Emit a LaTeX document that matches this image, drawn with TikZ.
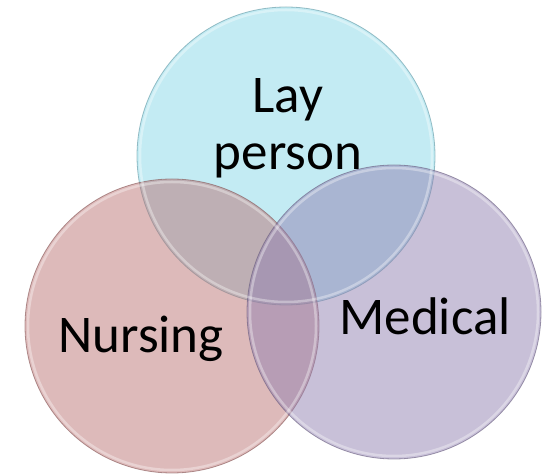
\documentclass[tikz,border=0pt]{standalone}
\usepackage{fontspec}
\setmainfont{Carlito}
\usepackage{xcolor}
\definecolor{laycyan}{HTML}{87D7E7}
\definecolor{nursered}{HTML}{BB7575}
\definecolor{medpurple}{HTML}{9181B1}
\definecolor{vennink}{HTML}{000000}

\begin{document}
\begin{tikzpicture}[x=1pt,y=1pt,
  venn/.style={circle, inner sep=0pt, minimum size=#1, fill opacity=0.5, draw opacity=0.6, line width=0.8pt},
  rim/.style={circle, inner sep=0pt, minimum size=#1, draw=white, draw opacity=0.35, line width=2.5pt},
  label/.style={text=vennink, font=\fontsize{53}{57}\selectfont, align=center}]
\useasboundingbox (0,0) rectangle (543,476);
% the three sets
\node[venn=298pt, fill=laycyan, draw=laycyan!70!black] (lay) at (286,320) {};
\node[venn=294pt, fill=nursered, draw=nursered!70!black] (nurse) at (172,150) {};
\node[venn=294pt, fill=medpurple, draw=medpurple!70!black] (med) at (394,164) {};
% soft highlight along the edges
\node[rim=292pt] at (lay) {};
\node[rim=288pt] at (nurse) {};
\node[rim=288pt] at (med) {};
% names
\node[label] (laytext) at (288,348) {Lay\\person};
\node[label, anchor=base] (nursetext) at (141,123) {Nursing};
\node[label, anchor=base] (medtext) at (425,141) {Medical};
\end{tikzpicture}
\end{document}
